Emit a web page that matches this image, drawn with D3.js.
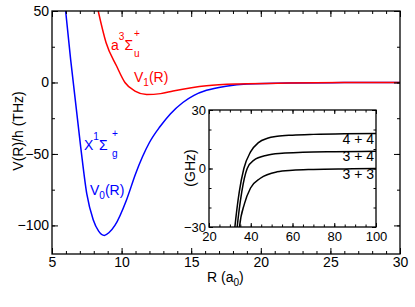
<!DOCTYPE html>
<html lang="en">
<head>
    <meta charset="UTF-8">
    <title>Potential curves</title>
    <script src="https://d3js.org/d3.v7.min.js"></script>
    <style>
        body { margin: 0; background: #fff; }
        text { font-family: "Liberation Sans", Arial, sans-serif; }
        .frame { fill: none; stroke: #000; stroke-width: 1.3px; }
        .tick line { stroke: #000; stroke-width: 1px; }
        .domain { display: none; }
        .curve { fill: none; stroke-width: 1.5px; }
    </style>
</head>
<body>
    <svg width="415" height="307"></svg>

    <script>
        // ground state V0(R), singlet (THz)
        const r0 = [5.98, 6.34, 7.06, 7.5, 7.96, 8.35, 8.76, 9.1, 9.52, 10.36, 11.0, 11.5, 12.0, 12.75, 13.5, 14.4, 15.2, 16.1, 17.5, 19, 22, 26, 30];
        const v0 = [50, 16, -45, -78, -96, -104, -107, -105, -100, -82, -64, -52, -42, -31, -22, -14, -9, -5.5, -2.6, -1, -0.3, -0.1, 0];

        // triplet V1(R) (THz)
        const r1 = [8.32, 8.88, 9.64, 10.24, 10.96, 11.8, 12.8, 13.7, 16.1, 18.5, 22, 26, 30];
        const v1 = [50, 28, 11.5, 0, -6, -8.4, -7.8, -6, -2.3, -1, -0.4, -0.1, 0];

        // inset: asymptotic channels (GHz) vs R (a0)
        const insetLabels = ["4 + 4", "3 + 4", "3 + 3"];
        const rIn44 = [31.5, 32.4, 34.5, 36.7, 39.9, 43.7, 48, 52.7, 60, 70, 85, 100];
        const eIn44 = [-40, -30, -12, 0, 8.5, 13.3, 15.5, 16.5, 17.1, 17.5, 17.8, 17.9];
        const rIn34 = [32.6, 33.5, 35.7, 38.3, 41.4, 47.8, 55, 65, 80, 100];
        const eIn34 = [-40, -30, -12, 0, 4.2, 6.8, 7.8, 8.3, 8.6, 8.8];
        const rIn33 = [33.7, 34.6, 37, 39.9, 44.6, 52.6, 60, 70, 85, 100];
        const eIn33 = [-40, -30, -18, -10, -5, -1.7, -0.9, -0.5, -0.2, 0];

        const xTicks = [5, 10, 15, 20, 25, 30];
        const yTicks = [-100, -50, 0, 50];
        const xTicksIn = [20, 40, 60, 80, 100];
        const yTicksIn = [-30, 0, 30];

        const svg = d3.select("svg");

        // main plot scales
        const x = d3.scaleLinear().domain([5, 30]).range([52, 400]);
        const y = d3.scaleLinear().domain([-120, 50]).range([254, 11]);

        svg.append("clipPath").attr("id", "clipMain")
            .append("rect")
            .attr("x", x(5)).attr("y", y(50))
            .attr("width", x(30) - x(5)).attr("height", y(-120) - y(50));

        const line = d3.line()
            .x(d => x(d[0]))
            .y(d => y(d[1]))
            .curve(d3.curveMonotoneX);

        svg.append("path")
            .attr("class", "curve")
            .attr("clip-path", "url(#clipMain)")
            .attr("stroke", "#0000ff")
            .attr("d", line(d3.zip(r0, v0)));

        svg.append("path")
            .attr("class", "curve")
            .attr("clip-path", "url(#clipMain)")
            .attr("stroke", "#ff0000")
            .attr("d", line(d3.zip(r1, v1)));

        // axes with inward ticks on all four sides
        function addAxes(g, xs, ys, xMaj, xMin, yMaj, yMin, big, small, fontSize, padB) {
            const x0 = xs.range()[0], x1 = xs.range()[1];
            const y0 = ys.range()[0], y1 = ys.range()[1];
            const fmt = d3.format("d");
            // bottom
            g.append("g").attr("transform", `translate(0,${y0})`)
                .call(d3.axisBottom(xs).tickValues(xMin).tickSize(-small).tickFormat(""));
            g.append("g").attr("transform", `translate(0,${y0})`)
                .call(d3.axisBottom(xs).tickValues(xMaj).tickSize(-big).tickPadding(padB).tickFormat(fmt))
                .selectAll("text").attr("font-size", fontSize).attr("fill", "#000");
            // top
            g.append("g").attr("transform", `translate(0,${y1})`)
                .call(d3.axisTop(xs).tickValues(xMin).tickSize(-small).tickFormat(""));
            g.append("g").attr("transform", `translate(0,${y1})`)
                .call(d3.axisTop(xs).tickValues(xMaj).tickSize(-big).tickFormat(""));
            // left
            g.append("g").attr("transform", `translate(${x0},0)`)
                .call(d3.axisLeft(ys).tickValues(yMin).tickSize(-small).tickFormat(""));
            g.append("g").attr("transform", `translate(${x0},0)`)
                .call(d3.axisLeft(ys).tickValues(yMaj).tickSize(-big).tickPadding(3).tickFormat(fmt))
                .selectAll("text").attr("font-size", fontSize).attr("fill", "#000");
            // right
            g.append("g").attr("transform", `translate(${x1},0)`)
                .call(d3.axisRight(ys).tickValues(yMin).tickSize(-small).tickFormat(""));
            g.append("g").attr("transform", `translate(${x1},0)`)
                .call(d3.axisRight(ys).tickValues(yMaj).tickSize(-big).tickFormat(""));
            g.append("rect").attr("class", "frame")
                .attr("x", x0).attr("y", y1)
                .attr("width", x1 - x0).attr("height", y0 - y1);
        }

        const mainAxes = svg.append("g");
        addAxes(mainAxes, x, y, xTicks, d3.range(5, 31, 1), yTicks, d3.range(-100, 51, 25), 6, 3, 14, 3);

        // labels
        function label(parent, px, py, parts, color, size) {
            const t = parent.append("text")
                .attr("x", px).attr("y", py)
                .attr("fill", color)
                .attr("font-size", size);
            parts.forEach(p => {
                const s = t.append("tspan").text(p.t);
                if (p.dy) s.attr("dy", p.dy);
                if (p.small) s.attr("font-size", size * 0.72);
            });
            return t;
        }

        svg.append("text")
            .attr("transform", "translate(23,131) rotate(-90)")
            .attr("text-anchor", "middle")
            .attr("font-size", 14)
            .text("V(R)/h (THz)");

        label(svg, 207, 282, [{ t: "R (a" }, { t: "0", small: true, dy: 4 }, { t: ")", dy: -4 }], "#000", 14);

        // red labels
        label(svg, 111, 50, [{ t: "a" }, { t: "3", small: true, dy: -10 }, { t: "Σ", dy: 10 }], "#ff0000", 14);
        label(svg, 134, 57, [{ t: "u", small: true }], "#ff0000", 14);
        label(svg, 134, 37, [{ t: "+", small: true }], "#ff0000", 14);
        label(svg, 134, 82, [{ t: "V" }, { t: "1", small: true, dy: 4 }, { t: "(R)", dy: -4 }], "#ff0000", 14);

        // blue labels
        label(svg, 84, 150, [{ t: "X" }, { t: "1", small: true, dy: -10 }, { t: "Σ", dy: 10 }], "#0000ff", 14);
        label(svg, 112, 157, [{ t: "g", small: true }], "#0000ff", 14);
        label(svg, 112, 137, [{ t: "+", small: true }], "#0000ff", 14);
        label(svg, 90, 195, [{ t: "V" }, { t: "0", small: true, dy: 4 }, { t: "(R)", dy: -4 }], "#0000ff", 14);

        // inset
        const xi = d3.scaleLinear().domain([20, 100]).range([209, 376]);
        const yi = d3.scaleLinear().domain([-30, 30]).range([227, 110]);

        const inset = svg.append("g");
        inset.append("rect")
            .attr("x", xi(20)).attr("y", yi(30))
            .attr("width", xi(100) - xi(20)).attr("height", yi(-30) - yi(30))
            .attr("fill", "#fff");

        svg.append("clipPath").attr("id", "clipIn")
            .append("rect")
            .attr("x", xi(20)).attr("y", yi(30))
            .attr("width", xi(100) - xi(20)).attr("height", yi(-30) - yi(30));

        const lineIn = d3.line()
            .x(d => xi(d[0]))
            .y(d => yi(d[1]))
            .curve(d3.curveMonotoneX);

        [[rIn44, eIn44], [rIn34, eIn34], [rIn33, eIn33]].forEach(([rs, es], i) => {
            inset.append("path")
                .attr("class", "curve")
                .attr("clip-path", "url(#clipIn)")
                .attr("stroke", "#000")
                .attr("stroke-width", 1.4)
                .attr("d", lineIn(d3.zip(rs, es)));
            inset.append("text")
                .attr("x", xi(100) - 2)
                .attr("y", yi(es[es.length - 1]) + 10)
                .attr("text-anchor", "end")
                .attr("font-size", 14)
                .text(insetLabels[i]);
        });

        addAxes(inset, xi, yi, xTicksIn, d3.range(20, 101, 5), yTicksIn, d3.range(-30, 31, 10), 4, 2.5, 13, 5);

        inset.append("text")
            .attr("transform", "translate(195,168) rotate(-90)")
            .attr("text-anchor", "middle")
            .attr("font-size", 14)
            .text("(GHz)");
    </script>
</body>
</html>
